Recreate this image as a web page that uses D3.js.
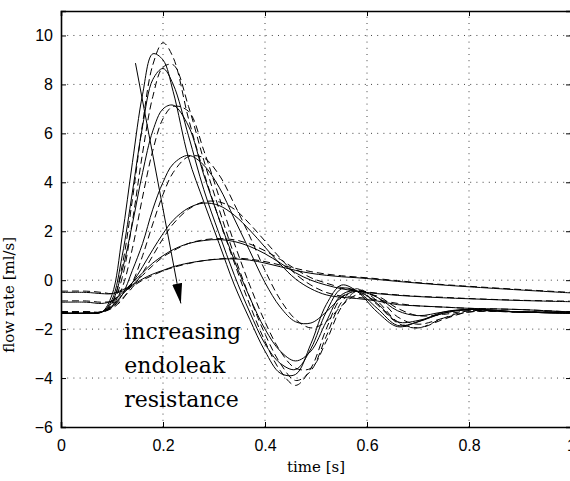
<!DOCTYPE html>
<html>
<head>
<meta charset="utf-8">
<script src="https://cdn.jsdelivr.net/npm/d3@7"></script>
<style>
  body { margin: 0; background: #fff; }
  svg { display: block; }
</style>
</head>
<body>
<div id="chart"></div>
<script>
// sample times (s)
var times = [0, 0.05, 0.08, 0.1, 0.12, 0.14, 0.16, 0.18, 0.2, 0.22, 0.25, 0.28, 0.31, 0.34, 0.37, 0.4, 0.43, 0.46, 0.49, 0.52, 0.55, 0.58, 0.62, 0.66, 0.7, 0.75, 0.8, 0.9, 1.0];

// solid curves, lowest endoleak resistance first
var solid1 = [-1.35,-1.35,-1.3,-0.6,1.8,4.8,7.6,9.25,9.0,7.7,5.0,3.2,1.5,-0.2,-1.6,-2.9,-3.8,-3.85,-2.6,-1.0,-0.2,-0.45,-1.3,-1.9,-1.7,-1.3,-1.2,-1.3,-1.35];
var solid2 = [-1.35,-1.35,-1.3,-0.8,1.0,3.6,6.3,8.2,8.65,8.0,5.9,3.7,1.9,0.2,-1.3,-2.6,-3.4,-3.65,-2.8,-1.3,-0.35,-0.45,-1.15,-1.85,-1.7,-1.35,-1.2,-1.3,-1.35];
var solid3 = [-1.35,-1.35,-1.3,-0.9,0.4,2.3,4.4,6.1,7.0,7.15,6.3,4.3,2.5,0.8,-0.7,-2.0,-2.9,-3.3,-2.9,-1.7,-0.6,-0.45,-0.95,-1.7,-1.65,-1.35,-1.2,-1.3,-1.35];
var solid4 = [-1.35,-1.35,-1.3,-1.1,-0.6,0.4,1.5,2.9,4.0,4.75,5.1,4.7,3.8,2.5,1.2,-0.1,-1.1,-1.7,-1.75,-1.3,-0.7,-0.45,-0.7,-1.25,-1.45,-1.3,-1.2,-1.3,-1.35];
var solid5 = [-1.35,-1.35,-1.3,-1.05,-0.6,-0.1,0.55,1.25,1.9,2.45,2.95,3.15,3.05,2.65,2.05,1.35,0.65,0.05,-0.35,-0.6,-0.7,-0.75,-0.85,-1.0,-1.05,-1.1,-1.15,-1.2,-1.3];
var solid6 = [-0.9,-0.9,-0.95,-0.85,-0.5,-0.1,0.3,0.7,1.0,1.25,1.5,1.62,1.66,1.58,1.38,1.08,0.7,0.3,0.0,-0.2,-0.35,-0.45,-0.55,-0.62,-0.67,-0.72,-0.76,-0.83,-0.88];
var solid7 = [-0.5,-0.5,-0.55,-0.55,-0.4,-0.2,0.05,0.25,0.4,0.55,0.7,0.8,0.86,0.87,0.82,0.7,0.55,0.4,0.28,0.2,0.14,0.1,0.03,-0.05,-0.12,-0.2,-0.27,-0.4,-0.52];

// dashed curves
var dashed1 = [-1.3,-1.3,-1.3,-0.95,0.6,3.3,6.4,8.8,9.7,9.1,6.6,4.4,2.5,0.7,-1.0,-2.5,-3.7,-4.3,-3.6,-2.0,-0.7,-0.35,-1.0,-1.75,-1.95,-1.55,-1.25,-1.3,-1.3];
var dashed2 = [-1.3,-1.3,-1.3,-1.0,0.1,2.4,5.2,7.5,8.7,8.8,7.1,4.9,2.9,1.0,-0.7,-2.2,-3.4,-4.1,-3.7,-2.3,-0.9,-0.35,-0.85,-1.7,-1.95,-1.6,-1.3,-1.3,-1.3];
var dashed3 = [-1.3,-1.3,-1.3,-1.05,-0.3,1.3,3.4,5.3,6.6,7.1,6.9,5.3,3.4,1.5,-0.2,-1.7,-2.9,-3.6,-3.6,-2.5,-1.1,-0.45,-0.7,-1.5,-1.8,-1.55,-1.3,-1.3,-1.3];
var dashed4 = [-1.3,-1.3,-1.3,-1.15,-0.8,-0.1,1.0,2.3,3.5,4.4,5.05,5.0,4.3,3.1,1.8,0.4,-0.8,-1.6,-1.95,-1.7,-1.05,-0.6,-0.65,-1.15,-1.45,-1.4,-1.25,-1.3,-1.3];
var dashed5 = [-1.3,-1.3,-1.3,-1.1,-0.75,-0.3,0.3,1.0,1.7,2.3,2.9,3.2,3.2,2.9,2.3,1.6,0.9,0.25,-0.2,-0.5,-0.65,-0.7,-0.8,-0.95,-1.05,-1.1,-1.15,-1.2,-1.3];
var dashed6 = [-0.85,-0.85,-0.9,-0.85,-0.55,-0.2,0.2,0.6,0.95,1.2,1.5,1.65,1.7,1.65,1.48,1.2,0.85,0.45,0.1,-0.12,-0.3,-0.42,-0.53,-0.6,-0.66,-0.7,-0.75,-0.82,-0.86];
var dashed7 = [-0.45,-0.45,-0.5,-0.55,-0.45,-0.25,0.0,0.2,0.38,0.52,0.68,0.8,0.87,0.9,0.86,0.76,0.62,0.48,0.35,0.25,0.18,0.13,0.06,-0.02,-0.1,-0.18,-0.25,-0.38,-0.5];

var xTicks = [0, 0.2, 0.4, 0.6, 0.8, 1];
var yTicks = [-6, -4, -2, 0, 2, 4, 6, 8, 10];
var xTickLabels = ["0", "0.2", "0.4", "0.6", "0.8", "1"];

// arrow and annotation, in data units
var arrowFrom = [0.146, 8.87];
var arrowTo = [0.235, -0.95];
var noteLines = ["increasing", "endoleak", "resistance"];
var noteAt = [0.124, -2.41];

var margin = { top: 11, right: -1, bottom: 54, left: 61 },
  width = 570 - margin.left - margin.right,
  height = 481 - margin.top - margin.bottom;

var svg = d3
  .select("#chart")
  .append("svg")
  .attr("width", 570)
  .attr("height", 481)
  .append("g")
  .attr("transform", "translate(" + margin.left + "," + margin.top + ")");

var x = d3.scaleLinear().domain([0, 1]).range([0, width]);
var y = d3.scaleLinear().domain([-6, 11]).range([height, 0]);

// dotted grid
svg
  .append("g")
  .selectAll("line.gx")
  .data(xTicks.slice(1, -1))
  .enter()
  .append("line")
  .attr("x1", function (d) { return x(d); })
  .attr("x2", function (d) { return x(d); })
  .attr("y1", height)
  .attr("y2", 0)
  .attr("stroke", "#444")
  .attr("stroke-width", 1)
  .attr("stroke-dasharray", "1,5.2");

svg
  .append("g")
  .selectAll("line.gy")
  .data(yTicks.slice(1))
  .enter()
  .append("line")
  .attr("x1", 0)
  .attr("x2", width)
  .attr("y1", function (d) { return y(d); })
  .attr("y2", function (d) { return y(d); })
  .attr("stroke", "#444")
  .attr("stroke-width", 1)
  .attr("stroke-dasharray", "1,5.2");

// curves
var line = d3
  .line()
  .x(function (d, i) { return x(times[i]); })
  .y(function (d) { return y(d); })
  .curve(d3.curveCatmullRom.alpha(0.5));

var plot = svg.append("g");

plot
  .selectAll("path.dash")
  .data([dashed1, dashed2, dashed3, dashed4, dashed5, dashed6, dashed7])
  .enter()
  .append("path")
  .attr("d", line)
  .attr("fill", "none")
  .attr("stroke", "#000")
  .attr("stroke-width", 1)
  .attr("stroke-dasharray", "7,4");

plot
  .selectAll("path.solid")
  .data([solid1, solid2, solid3, solid4, solid5, solid6, solid7])
  .enter()
  .append("path")
  .attr("d", line)
  .attr("fill", "none")
  .attr("stroke", "#000")
  .attr("stroke-width", 1);

// axes, MATLAB style (ticks inward)
var tickFont = "'Liberation Sans', Arial, sans-serif";

var xAxis = svg
  .append("g")
  .attr("transform", "translate(0," + height + ")")
  .call(
    d3.axisBottom(x)
      .tickValues(xTicks)
      .tickSize(-5)
      .tickPadding(13)
      .tickFormat(function (d, i) { return xTickLabels[i]; })
  );
xAxis.selectAll("text").style("font-family", tickFont).style("font-size", "16px").attr("fill", "#000");

var yAxis = svg
  .append("g")
  .call(d3.axisLeft(y).tickValues(yTicks).tickSize(-5).tickPadding(8));
yAxis.selectAll("text").style("font-family", tickFont).style("font-size", "16px").attr("fill", "#000");

// mirrored ticks on top and right, no labels
var topAxis = svg
  .append("g")
  .call(d3.axisTop(x).tickValues(xTicks).tickSize(-5).tickFormat(""));
var rightAxis = svg
  .append("g")
  .attr("transform", "translate(" + width + ",0)")
  .call(d3.axisRight(y).tickValues(yTicks).tickSize(-5).tickFormat(""));

[xAxis, yAxis, topAxis, rightAxis].forEach(function (a) {
  a.select(".domain").attr("stroke", "#000").attr("stroke-width", 1.6);
  a.selectAll(".tick line").attr("stroke", "#000");
});

// axis labels
svg
  .append("text")
  .attr("x", width / 2)
  .attr("y", height + 45)
  .style("text-anchor", "middle")
  .style("font-family", "'DejaVu Serif', serif")
  .style("font-size", "15px")
  .text("time [s]");

svg
  .append("text")
  .attr("transform", "rotate(-90)")
  .attr("x", -y(-0.6))
  .attr("y", -47)
  .style("text-anchor", "middle")
  .style("font-family", "'DejaVu Serif', serif")
  .style("font-size", "15px")
  .text("flow rate [ml/s]");

// arrow
var defs = svg.append("defs");
defs
  .append("marker")
  .attr("id", "head")
  .attr("viewBox", "0 0 20 10")
  .attr("refX", 20)
  .attr("refY", 5)
  .attr("markerWidth", 20)
  .attr("markerHeight", 10)
  .attr("markerUnits", "userSpaceOnUse")
  .attr("orient", "auto")
  .append("path")
  .attr("d", "M0,0 L20,5 L0,10 Z")
  .attr("fill", "#000");

svg
  .append("line")
  .attr("x1", x(arrowFrom[0]))
  .attr("y1", y(arrowFrom[1]))
  .attr("x2", x(arrowTo[0]))
  .attr("y2", y(arrowTo[1]))
  .attr("stroke", "#000")
  .attr("stroke-width", 1)
  .attr("marker-end", "url(#head)");

// annotation
var note = svg
  .append("text")
  .attr("x", x(noteAt[0]))
  .attr("y", y(noteAt[1]))
  .style("font-family", "'DejaVu Serif', serif")
  .style("font-size", "22px");

note
  .selectAll("tspan")
  .data(noteLines)
  .enter()
  .append("tspan")
  .attr("x", x(noteAt[0]))
  .attr("dy", function (d, i) { return i === 0 ? 0 : 34; })
  .text(function (d) { return d; });
</script>
</body>
</html>
